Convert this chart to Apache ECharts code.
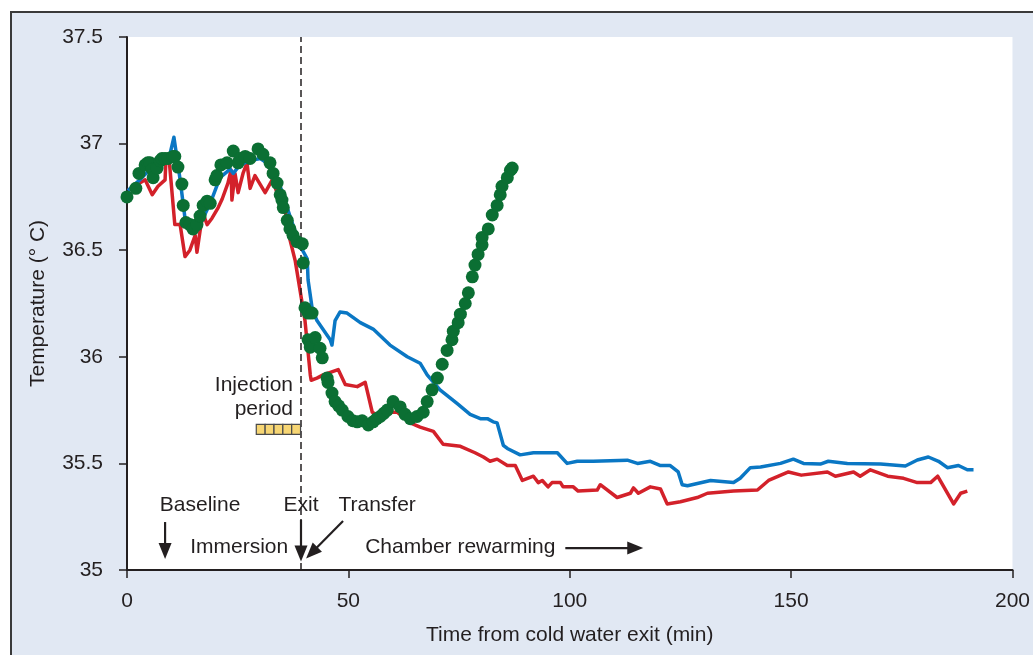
<!DOCTYPE html>
<html>
<head>
<meta charset="utf-8">
<script src="https://cdn.jsdelivr.net/npm/echarts/dist/echarts.min.js"></script>
<style>
  html, body { margin: 0; padding: 0; background: #ffffff; }
  #panel { position: absolute; left: 10px; top: 11px; width: 1023px; height: 644px;
           background: #e1e8f3; border-top: 2px solid #3a3a3a; border-left: 2px solid #3a3a3a; box-sizing: border-box; }
  #chart { position: absolute; left: 0; top: 0; width: 1033px; height: 655px; }
</style>
</head>
<body>
<div id="panel"></div>
<div id="chart"></div>
<script>
// ---- data (time in min, temperature in °C) ----
const xTickValues = [0, 50, 100, 150, 200];
const yTickValues = [35, 35.5, 36, 36.5, 37, 37.5];

const blueSeries = [
  [0.2,36.78],[2.9,36.83],[5.2,36.88],[7.5,36.92],[9.7,36.95],[10.6,37.03],[12.0,36.83],[13.1,36.65],[14.2,36.59],
  [16.5,36.62],[18.8,36.72],[21.0,36.84],[23.3,36.88],[24.0,36.86],[25.5,36.90],[27.8,36.92],[30.1,36.93],[32.3,36.90],
  [34.6,36.80],[36.8,36.66],[39.1,36.52],[40.7,36.46],[40.9,36.36],[41.8,36.23],[42.9,36.17],[45.9,36.08],[46.3,36.055],
  [47.0,36.17],[48.1,36.21],[49.7,36.205],[52.7,36.16],[55.6,36.13],[59.4,36.055],[63.3,36.0],[66.2,35.97],[67.8,35.915],
  [70.7,35.845],[74.6,35.78],[77.5,35.73],[79.8,35.71],[81.4,35.71],[82.7,35.695],[83.6,35.69],[85.0,35.585],[85.9,35.57],
  [88.8,35.54],[91.8,35.55],[97.2,35.55],[99.4,35.50],[101.7,35.51],[105.3,35.51],[113.0,35.515],[115.3,35.50],[118.2,35.51],
  [120.5,35.49],[122.7,35.49],[124.5,35.46],[125.4,35.40],[126.6,35.395],[131.8,35.42],[137.0,35.41],[138.5,35.43],[140.8,35.48],
  [143.1,35.483],[147.6,35.50],[150.5,35.52],[152.8,35.50],[156.6,35.497],[158.4,35.51],[162.7,35.50],[170.2,35.497],
  [175.8,35.488],[178.5,35.516],[181.0,35.53],[183.3,35.51],[185.3,35.48],[187.8,35.49],[189.8,35.47],[191.2,35.47]
];

const redSeries = [
  [0.2,36.78],[2.5,36.81],[4.1,36.83],[5.7,36.76],[7.0,36.80],[8.6,36.83],[8.8,36.93],[9.3,36.95],[9.5,36.93],[10.8,36.62],
  [12.0,36.62],[13.1,36.47],[14.2,36.50],[15.4,36.57],[15.8,36.49],[16.5,36.59],[17.2,36.67],[18.1,36.62],[19.2,36.65],
  [20.6,36.70],[21.5,36.74],[22.8,36.815],[23.5,36.876],[23.7,36.735],[24.4,36.86],[25.1,36.77],[26.2,36.86],[27.1,36.91],
  [27.8,36.79],[28.9,36.85],[31.2,36.77],[32.8,36.83],[33.9,36.77],[35.7,36.69],[36.8,36.55],[38.0,36.45],[39.1,36.31],
  [40.2,36.17],[41.4,35.915],[41.6,35.89],[42.9,35.90],[44.3,35.915],[47.7,35.94],[49.3,35.87],[52.0,35.86],[53.8,35.88],
  [55.4,35.74],[57.2,35.72],[59.4,35.74],[61.0,35.74],[64.0,35.69],[66.2,35.67],[69.2,35.65],[71.4,35.59],[75.3,35.58],
  [78.6,35.55],[80.5,35.53],[82.0,35.51],[83.6,35.52],[85.9,35.49],[87.7,35.49],[89.3,35.42],[91.8,35.44],[92.9,35.41],
  [93.8,35.42],[95.1,35.39],[96.0,35.41],[97.9,35.41],[98.5,35.39],[100.8,35.39],[101.9,35.37],[106.2,35.375],[106.9,35.40],
  [110.7,35.34],[113.7,35.36],[114.4,35.385],[115.5,35.36],[118.2,35.39],[120.5,35.38],[122.0,35.31],[125.0,35.32],
  [128.8,35.34],[131.1,35.36],[137.0,35.37],[142.4,35.375],[144.9,35.42],[149.4,35.46],[152.3,35.445],[158.2,35.46],
  [160.0,35.44],[164.1,35.46],[165.6,35.44],[167.9,35.47],[171.8,35.44],[175.4,35.43],[178.5,35.41],[181.5,35.41],
  [183.1,35.44],[186.7,35.31],[188.3,35.36],[189.8,35.37]
];

const greenSeries = [
  [0,36.75],[2.0,36.79],[2.7,36.86],[4.1,36.90],[4.7,36.91],[5.2,36.91],[5.7,36.88],[5.9,36.84],[6.8,36.885],[7.5,36.92],
  [7.9,36.93],[8.6,36.93],[9.3,36.93],[10.4,36.94],[10.8,36.94],[11.5,36.89],[12.4,36.81],[12.7,36.71],[13.3,36.63],
  [14.2,36.62],[14.9,36.60],[15.8,36.62],[16.5,36.66],[17.2,36.71],[18.1,36.73],[18.8,36.72],[19.9,36.83],[20.3,36.85],
  [21.2,36.90],[22.6,36.91],[24.0,36.965],[25.1,36.91],[25.5,36.93],[26.7,36.94],[27.8,36.93],[29.6,36.975],[30.7,36.95],
  [32.3,36.91],[33.0,36.86],[33.9,36.815],[34.6,36.76],[35.0,36.735],[35.3,36.70],[36.2,36.64],[36.8,36.60],[37.5,36.57],
  [38.4,36.54],[39.6,36.53],[39.8,36.44],[40.2,36.23],[40.9,36.205],[41.8,36.205],[40.9,36.08],[41.4,36.045],[42.5,36.09],
  [43.6,36.04],[44.1,35.995],[45.2,35.90],[45.4,35.88],[46.3,35.83],[47.0,35.79],[47.8,35.77],[48.6,35.75],[49.9,35.72],
  [51.0,35.70],[52.0,35.695],[53.1,35.70],[54.5,35.68],[55.6,35.695],[56.4,35.71],[57.2,35.72],[58.0,35.735],[58.8,35.75],
  [60.1,35.79],[61.7,35.765],[62.8,35.73],[64.0,35.71],[65.5,35.72],[66.9,35.74],[67.8,35.79],[68.9,35.845],[70.1,35.90],
  [71.2,35.965],[72.3,36.03],[73.4,36.08],[73.7,36.12],[74.8,36.16],[75.3,36.20],[76.4,36.25],[77.1,36.30],[78.0,36.375],
  [78.6,36.43],[79.3,36.48],[80.2,36.525],[80.2,36.56],[81.6,36.60],[82.5,36.665],[83.6,36.71],[84.3,36.76],[84.7,36.80],
  [85.9,36.84],[86.6,36.875],[87.0,36.885]
];

const exitTime = 39.3;
const injectionCells = [[29.2,31.2],[31.2,33.2],[33.2,35.2],[35.2,37.2],[37.2,39.2]];
const injectionLevel = 35.66;

const textColor = '#231f20';
const fontFamily = '"Liberation Sans", Arial, Helvetica, sans-serif';
const fs = 21;

const chart = echarts.init(document.getElementById('chart'), null, { renderer: 'canvas' });

chart.setOption({
  backgroundColor: 'transparent',
  animation: false,
  textStyle: { fontFamily: fontFamily, color: textColor },
  grid: { left: 127, right: 20, top: 37, bottom: 85, show: true, backgroundColor: '#ffffff', borderWidth: 0 },
  xAxis: {
    type: 'value', min: 0, max: 200, interval: 50,
    name: 'Time from cold water exit (min)', nameLocation: 'middle', nameGap: 55,
    nameTextStyle: { fontSize: fs, color: textColor, fontFamily: fontFamily },
    axisLine: { onZero: false, lineStyle: { color: textColor, width: 2 } },
    axisTick: { show: true, length: 8, lineStyle: { color: textColor, width: 1.5 } },
    axisLabel: { fontSize: fs, color: textColor, margin: 21, fontFamily: fontFamily },
    splitLine: { show: false }
  },
  yAxis: {
    type: 'value', min: 35, max: 37.5, interval: 0.5,
    name: 'Temperature (° C)', nameLocation: 'middle', nameGap: 78,
    nameTextStyle: { fontSize: fs, color: textColor, fontFamily: fontFamily },
    axisLine: { show: true, onZero: false, lineStyle: { color: textColor, width: 2 } },
    axisTick: { show: true, length: 8, lineStyle: { color: textColor, width: 1.5 } },
    axisLabel: { fontSize: fs, color: textColor, margin: 24, fontFamily: fontFamily },
    splitLine: { show: false }
  },
  series: [
    {
      type: 'line', name: 'red', data: redSeries, showSymbol: false, symbol: 'none', z: 3,
      lineStyle: { color: '#d3212a', width: 3.5, join: 'round' },
      markLine: {
        silent: true, symbol: 'none', label: { show: false },
        lineStyle: { color: textColor, type: [7, 4], width: 1.5 },
        data: [{ xAxis: exitTime }]
      }
    },
    {
      type: 'line', name: 'blue', data: blueSeries, showSymbol: false, symbol: 'none', z: 4,
      lineStyle: { color: '#0a77c4', width: 3.5, join: 'round' }
    },
    {
      type: 'scatter', name: 'green', data: greenSeries, symbol: 'circle', symbolSize: 13, z: 5,
      itemStyle: { color: '#0b6f33', opacity: 1 }
    },
    {
      type: 'custom', name: 'injection', z: 6,
      data: injectionCells,
      renderItem: function (params, api) {
        const p0 = api.coord([api.value(0), injectionLevel]);
        const p1 = api.coord([api.value(1), injectionLevel]);
        return {
          type: 'rect',
          shape: { x: p0[0], y: p0[1] - 5, width: p1[0] - p0[0], height: 10 },
          style: { fill: '#f7d674', stroke: '#4a4a4a', lineWidth: 1.2 }
        };
      }
    }
  ]
});

// ---- annotations (anchored in data coordinates) ----
const annotTexts = [
  { text: 'Injection\nperiod', t: 37.5, T: 35.812, align: 'right' },
  { text: 'Baseline', t: 16.5, T: 35.305, align: 'center' },
  { text: 'Exit', t: 39.3, T: 35.305, align: 'center' },
  { text: 'Transfer', t: 56.5, T: 35.305, align: 'center' },
  { text: 'Immersion', t: 36.4, T: 35.108, align: 'right' },
  { text: 'Chamber rewarming', t: 53.8, T: 35.108, align: 'left' }
];
const annotArrows = [
  { from: [8.6, 35.225], to: [8.6, 35.052] },
  { from: [39.3, 35.235], to: [39.3, 35.040] },
  { from: [48.8, 35.23], to: [40.45, 35.054] },
  { from: [99.0, 35.103], to: [116.6, 35.103] }
];

function px(p) { return chart.convertToPixel({ xAxisIndex: 0, yAxisIndex: 0 }, p); }

const graphics = [];
annotTexts.forEach(function (a) {
  const p = px([a.t, a.T]);
  graphics.push({
    type: 'text', x: p[0], y: p[1], z: 10,
    style: {
      text: a.text, fill: textColor, font: fs + 'px ' + fontFamily,
      textAlign: a.align, textVerticalAlign: 'middle', lineHeight: 24
    }
  });
});
annotArrows.forEach(function (a) {
  const p0 = px(a.from), p1 = px(a.to);
  const dx = p1[0] - p0[0], dy = p1[1] - p0[1];
  const len = Math.sqrt(dx * dx + dy * dy);
  const ux = dx / len, uy = dy / len;
  const headLen = 16, headHalf = 6.5;
  const bx = p1[0] - ux * headLen, by = p1[1] - uy * headLen;
  graphics.push({
    type: 'line', z: 10,
    shape: { x1: p0[0], y1: p0[1], x2: bx + ux * 2, y2: by + uy * 2 },
    style: { stroke: textColor, lineWidth: 2.2 }
  });
  graphics.push({
    type: 'polygon', z: 10,
    shape: { points: [[p1[0], p1[1]], [bx - uy * headHalf, by + ux * headHalf], [bx + uy * headHalf, by - ux * headHalf]] },
    style: { fill: textColor }
  });
});
chart.setOption({ graphic: graphics });
</script>
</body>
</html>
